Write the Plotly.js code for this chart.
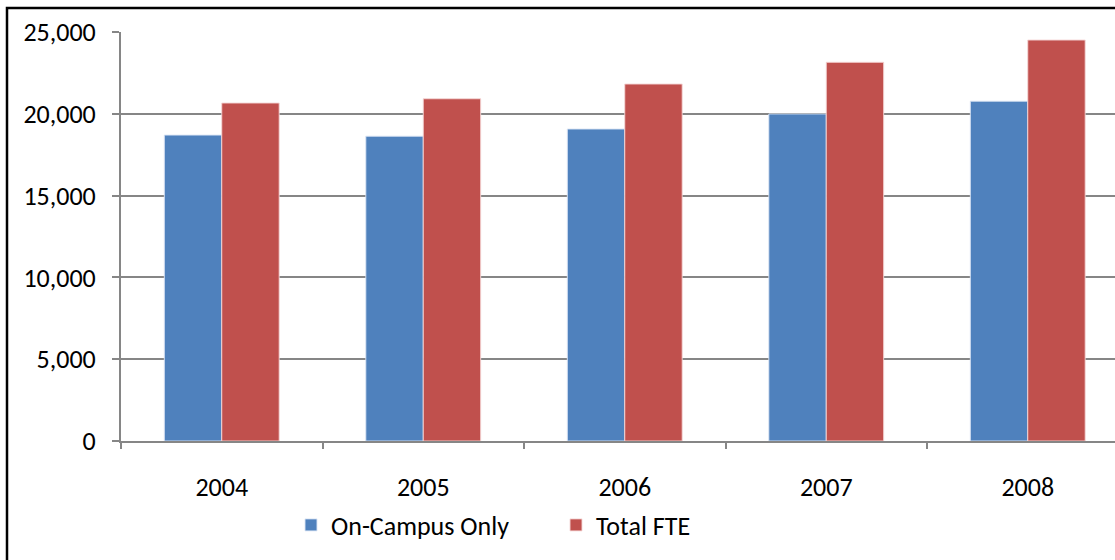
<!DOCTYPE html>
<html><head><meta charset="utf-8">
<script src="https://cdn.plot.ly/plotly-3.0.1.min.js"></script>
<style>html,body{margin:0;padding:0;background:#fff;overflow:hidden}#chart{width:1115px;height:560px}</style>
</head><body><div id="chart"></div>
<script>
const years = ["2004", "2005", "2006", "2007", "2008"];
const onCampus = [18700, 18630, 19070, 19990, 20770];
const totalFTE = [20660, 20920, 21820, 23150, 24510];
const seriesNames = ["On-Campus Only", "Total FTE"];

const font = {family: "Carlito, Calibri, Lato, 'Open Sans', sans-serif", size: 26, color: "#000"};
const traces = [
  {type: "bar", name: seriesNames[0], x: years, y: onCampus,
   marker: {color: "#4F81BD", line: {color: "rgba(220,230,245,0.9)", width: 1}}},
  {type: "bar", name: seriesNames[1], x: years, y: totalFTE,
   marker: {color: "#C0504D", line: {color: "rgba(245,215,215,0.9)", width: 1}}}
];
const L = 121, R = 1115, T = 32, B = 441;
const pw = R - L, ph = B - T;
const layout = {
  width: 1115, height: 560,
  margin: {l: L, r: 1115 - R, t: T, b: 560 - B},
  paper_bgcolor: "#fff", plot_bgcolor: "#fff",
  font: font,
  barmode: "group", bargap: 0.43, bargroupgap: 0,
  showlegend: true,
  legend: {orientation: "h", x: (291 - L) / pw, xanchor: "left", y: (B - 525) / ph, yanchor: "middle",
           font: {family: font.family, size: 26, color: "#000"}, entrywidth: 220,
           bgcolor: "rgba(0,0,0,0)"},
  xaxis: {type: "category", range: [-0.5, -0.5 + pw / 201.5], showgrid: false,
          showline: true, linecolor: "#868686", linewidth: 2,
          ticks: "outside", tickson: "boundaries", ticklen: 6, tickwidth: 2, tickcolor: "#868686",
          tickfont: font, ticklabelstandoff: 22},
  yaxis: {range: [0, 25000], dtick: 5000, tickformat: ",d", showgrid: true, gridcolor: "#868686", gridwidth: 2,
          showline: true, linecolor: "#868686", linewidth: 2, zeroline: false,
          ticks: "outside", ticklen: 7, tickwidth: 2, tickcolor: "#868686",
          tickfont: font, ticklabelstandoff: 11},
  shapes: [
    {type: "rect", xref: "paper", yref: "paper",
     x0: (7 - L) / pw, x1: 1.2, y0: (B - 600) / ph, y1: (B - 8) / ph,
     line: {color: "#000", width: 2.5}, fillcolor: "rgba(0,0,0,0)", layer: "above"}
  ]
};
Plotly.newPlot("chart", traces, layout, {displayModeBar: false, staticPlot: true});
</script></body></html>
